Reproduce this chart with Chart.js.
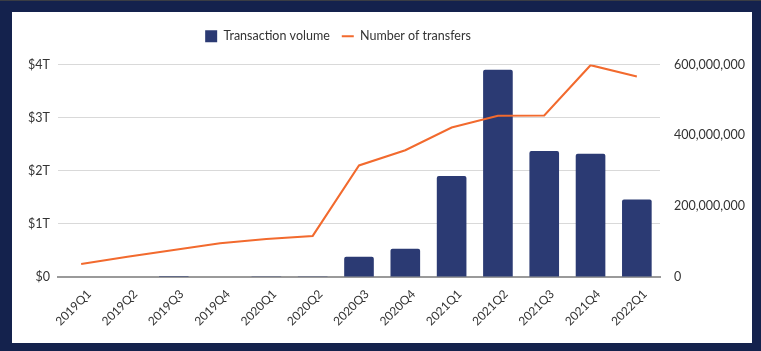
<!DOCTYPE html>
<html>
<head>
<meta charset="utf-8">
<script src="https://cdn.jsdelivr.net/npm/chart.js@4/dist/chart.umd.min.js"></script>
<style>
  html, body { margin: 0; padding: 0; }
  body { width: 761px; height: 351px; background: #14224d; position: relative; overflow: hidden; }
  .top-line { position: absolute; left: 0; top: 0; width: 761px; height: 1px; background: #3a3d44; }
  .panel { position: absolute; left: 12px; top: 12px; width: 740px; height: 331px; background: #fff; }
</style>
</head>
<body>
<div class="top-line"></div>
<div class="panel"><canvas id="chart" width="740" height="331"></canvas></div>
<script>
// --- datos ---
const quarters = ['2019Q1', '2019Q2', '2019Q3', '2019Q4', '2020Q1', '2020Q2', '2020Q3',
                  '2020Q4', '2021Q1', '2021Q2', '2021Q3', '2021Q4', '2022Q1'];
// volumen en billones de dólares (T)
const volumeT = [0, 0, 0.02, 0, 0.015, 0.015, 0.38, 0.53, 1.9, 3.9, 2.37, 2.32, 1.46];
// número de transferencias
const transfers = [37e6, 57e6, 76e6, 95e6, 107e6, 116e6, 315e6, 358e6, 422e6, 455e6, 456e6, 598e6, 566e6];
const leftTicks = [0, 1, 2, 3, 4];
const rightTicks = [0, 200e6, 400e6, 600e6];

const navy = '#2b3a73';
const orange = '#f26a2e';
const textColor = '#333333';

// espacio extra bajo la leyenda y leyenda centrada sobre el área del gráfico
const legendMargin = {
    id: 'legendMargin',
    beforeInit: function(chart) {
        const fit = chart.legend.fit;
        chart.legend.fit = function() {
            fit.bind(chart.legend)();
            this.height += 12;
        };
    },
    beforeDraw: function(chart) {
        chart.legend.right = chart.width - 88;
    }
};

document.addEventListener('DOMContentLoaded', function() {
    const ctx = document.getElementById('chart').getContext('2d');
    new Chart(ctx, {
        data: {
            labels: quarters,
            datasets: [
                {
                    type: 'bar',
                    label: 'Transaction volume',
                    data: volumeT,
                    backgroundColor: navy,
                    borderRadius: 2,
                    borderSkipped: 'bottom',
                    barPercentage: 0.64,
                    categoryPercentage: 1,
                    yAxisID: 'y',
                    pointStyle: 'rect',
                    order: 2
                },
                {
                    type: 'line',
                    label: 'Number of transfers',
                    data: transfers,
                    borderColor: orange,
                    backgroundColor: orange,
                    borderWidth: 2,
                    pointRadius: 0,
                    tension: 0,
                    yAxisID: 'y1',
                    pointStyle: 'line',
                    order: 1
                }
            ]
        },
        plugins: [legendMargin],
        options: {
            responsive: false,
            animation: false,
            layout: { padding: { top: 6, left: 0, right: 0, bottom: 0 } },
            plugins: {
                legend: {
                    position: 'top',
                    labels: {
                        usePointStyle: true,
                        pointStyleWidth: 12,
                        boxHeight: 12,
                        color: textColor,
                        font: { family: 'Lato', size: 12.5 },
                        padding: 12,
                        sort: (a, b) => a.datasetIndex - b.datasetIndex
                    }
                },
                tooltip: { enabled: false }
            },
            scales: {
                x: {
                    grid: { display: false },
                    border: { color: '#9a9a9a', width: 2 },
                    ticks: {
                        color: textColor,
                        font: { family: 'Lato', size: 12 },
                        minRotation: 45,
                        maxRotation: 45,
                        padding: 2,
                        labelOffset: 8
                    },
                    afterFit: function(scale) { scale.height = 66; }
                },
                y: {
                    position: 'left',
                    min: 0,
                    max: 4,
                    afterBuildTicks: function(scale) { scale.ticks = leftTicks.map(v => ({ value: v })); },
                    grid: { color: '#d9d9d9', drawTicks: false },
                    border: { display: false },
                    ticks: {
                        color: textColor,
                        font: { family: 'Lato', size: 12.5 },
                        padding: 8,
                        callback: v => v === 0 ? '$0' : '$' + v + 'T'
                    },
                    afterFit: function(scale) { scale.width = 46; }
                },
                y1: {
                    position: 'right',
                    min: 0,
                    max: 600e6,
                    afterBuildTicks: function(scale) { scale.ticks = rightTicks.map(v => ({ value: v })); },
                    grid: { display: false },
                    border: { display: false },
                    ticks: {
                        color: textColor,
                        font: { family: 'Lato', size: 12.5 },
                        padding: 6,
                        callback: v => v.toLocaleString('en-US')
                    },
                    afterFit: function(scale) { scale.width = 92; }
                }
            }
        }
    });
});
</script>
</body>
</html>
